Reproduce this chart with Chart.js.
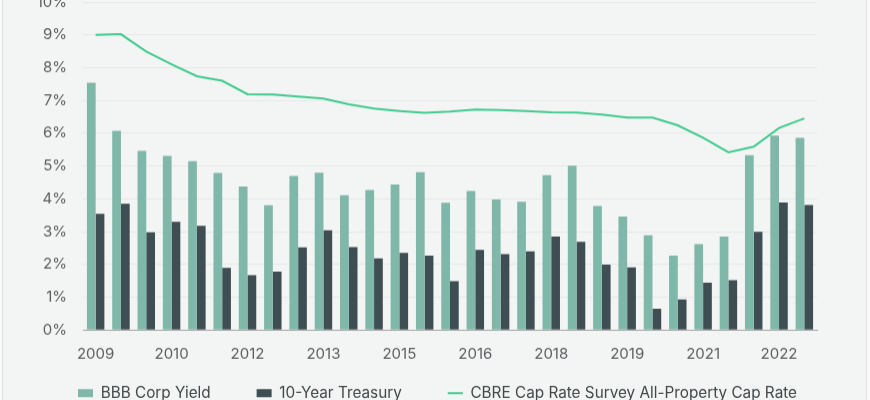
<!DOCTYPE html>
<html>
<head>
<meta charset="utf-8">
<script src="https://cdn.jsdelivr.net/npm/chart.js@4.4.0/dist/chart.umd.min.js"></script>
<style>
  html, body { margin: 0; padding: 0; width: 870px; height: 400px; overflow: hidden; background: #fafafa; }
  #frame { position: absolute; left: 2px; top: 0; width: 863px; height: 400px; background: #f3f4f4; border-left: 1px solid #dfe1e1; border-right: 1px solid #dfe1e1; }
  #wrap { position: absolute; left: 0; top: -23px; width: 870px; height: 471.5px; }
</style>
</head>
<body>
<div id="frame"></div>
<div id="wrap"><canvas id="c"></canvas></div>
<script>
// Half-year periods, 2009 H1 through 2023 H1
const categories = ['2009 H1','2009 H2','2010 H1','2010 H2','2011 H1','2011 H2','2012 H1','2012 H2','2013 H1','2013 H2',
  '2014 H1','2014 H2','2015 H1','2015 H2','2016 H1','2016 H2','2017 H1','2017 H2','2018 H1','2018 H2',
  '2019 H1','2019 H2','2020 H1','2020 H2','2021 H1','2021 H2','2022 H1','2022 H2','2023 H1'];
const xTickLabels = ['2009','','','2010','','','2012','','','2013','','','2015','','','2016','','','2018','','','2019','','','2021','','','2022',''];
const bbbCorpYield = [7.54,6.07,5.46,5.31,5.15,4.79,4.38,3.80,4.70,4.80,4.11,4.27,4.44,4.81,3.88,4.24,3.98,3.91,4.72,5.01,3.78,3.46,2.89,2.27,2.62,2.85,5.33,5.93,5.86];
const tenYearTreasury = [3.54,3.85,2.98,3.30,3.18,1.89,1.67,1.78,2.52,3.04,2.53,2.18,2.35,2.27,1.49,2.44,2.31,2.40,2.85,2.69,1.99,1.91,0.65,0.93,1.44,1.52,2.99,3.89,3.81];
const cbreCapRate = [9.00,9.02,8.49,8.10,7.74,7.60,7.19,7.18,7.12,7.06,6.88,6.75,6.68,6.62,6.66,6.72,6.71,6.68,6.64,6.63,6.57,6.48,6.48,6.24,5.86,5.42,5.59,6.16,6.45];
const yTicks = [0,1,2,3,4,5,6,7,8,9,10];

// Pull the legend row up closer to the axis labels (keeps wide horizontal spacing)
const legendLift = { id: 'legendLift', afterLayout(chart) {
  const L = chart.legend; const d = 38.5; L.top -= d; L.bottom -= d;
} };

const tickColor = '#5b5e5f';
new Chart(document.getElementById('c'), {
  plugins: [legendLift],
  data: {
    labels: categories,
    datasets: [
      { type: 'line', label: 'CBRE Cap Rate Survey All-Property Cap Rate', data: cbreCapRate,
        borderColor: '#3fcb8f', backgroundColor: '#3fcb8f', borderWidth: 2, pointRadius: 0, tension: 0,
        pointStyle: 'line', order: 0 },
      { type: 'bar', label: 'BBB Corp Yield', data: bbbCorpYield, backgroundColor: '#7fb7a8',
        borderWidth: 0, pointStyle: 'rect', categoryPercentage: 0.69, barPercentage: 1.0, order: 1 },
      { type: 'bar', label: '10-Year Treasury', data: tenYearTreasury, backgroundColor: '#3f4e52',
        borderWidth: 0, pointStyle: 'rect', categoryPercentage: 0.69, barPercentage: 1.0, order: 2 }
    ]
  },
  options: {
    responsive: true,
    maintainAspectRatio: false,
    animation: false,
    layout: { padding: { left: 5, right: 0, top: 0, bottom: 0 } },
    plugins: {
      tooltip: { enabled: false },
      legend: {
        position: 'bottom',
        labels: {
          usePointStyle: true,
          pointStyleWidth: 15,
          boxHeight: 8,
          padding: 46,
          color: '#424748',
          font: { family: 'Inter', size: 15.3 },
          sort: (a, b) => {
            const rank = { 'BBB Corp Yield': 0, '10-Year Treasury': 1 };
            const ra = rank[a.text] !== undefined ? rank[a.text] : 2;
            const rb = rank[b.text] !== undefined ? rank[b.text] : 2;
            return ra - rb;
          }
        }
      }
    },
    scales: {
      x: {
        grid: { display: false, drawTicks: false },
        border: { display: true, color: '#a3a6a6', width: 1 },
        ticks: {
          autoSkip: false, maxRotation: 0, padding: 15, color: tickColor,
          font: { family: 'Inter', size: 15 },
          callback: (v, i) => xTickLabels[i]
        }
      },
      y: {
        min: 0, max: 10,
        afterBuildTicks: (s) => { s.ticks = yTicks.map(v => ({ value: v })); },
        grid: { color: '#e7e9e9', drawTicks: false },
        border: { display: false },
        ticks: { padding: 16, color: tickColor, font: { family: 'Inter', size: 15 }, callback: (v) => v + '%' },
        afterFit: (s) => { s.width = 78; }
      },
      y2: {
        position: 'right',
        display: true,
        grid: { display: false, drawTicks: false },
        border: { display: false },
        ticks: { display: false },
        afterFit: (s) => { s.width = 53; }
      }
    }
  }
});
</script>
</body>
</html>
